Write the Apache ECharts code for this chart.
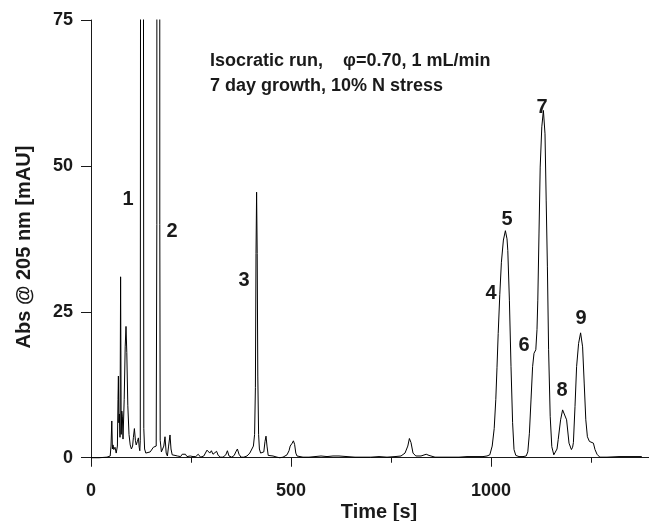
<!DOCTYPE html>
<html>
<head>
<meta charset="utf-8">
<script src="https://cdn.jsdelivr.net/npm/echarts@6/dist/echarts.min.js"></script>
<style>
  html, body { margin: 0; padding: 0; background: #fff; }
  #chart { width: 649px; height: 521px; }
</style>
</head>
<body>
<div id="chart"></div>
<script>
// chromatogram trace (time in s, absorbance in mAU)
const times = [
  0, 20, 40, 48, 50, 52, 53.5, 55, 57, 60, 63, 66, 67.5, 68.5, 69.5, 71, 72.5, 74, 75.5, 77,
  78.5, 80, 83, 85.5, 87.5, 89.5, 92, 95, 98, 101, 104, 106, 108.5, 111, 113, 116, 118.5, 120.5, 122, 123.2,
  123.8, 124.6, 127.5, 130.4, 131.2, 132, 134, 137, 142, 148, 152, 156, 160, 163, 164.6, 165.6, 168.5, 171, 172, 173,
  176, 180, 182, 185, 188, 191, 194, 197.5, 200, 203, 210, 216, 220, 224, 228, 232, 236, 240, 248, 255,
  262, 268, 274, 282, 290, 293, 297, 301, 305, 310, 314, 318, 324, 330, 337, 341, 345, 352, 358, 362,
  366, 370, 375, 382, 390, 397, 402, 406, 409, 411, 412.5, 414, 415.5, 417, 419, 421, 424, 428, 432, 435,
  437.5, 440, 443, 448, 455, 460, 465, 472, 480, 490, 495, 498, 500, 503, 506, 509, 512, 515, 520, 530,
  545, 560, 575, 590, 605, 620, 640, 660, 680, 700, 720, 740, 760, 775, 785, 792, 796, 800, 805, 812,
  825, 838, 845, 860, 880, 900, 920, 940, 960, 980, 990, 997, 1003, 1008, 1012, 1015, 1018, 1022, 1026, 1031,
  1036, 1040, 1042, 1046, 1050, 1054, 1057.5, 1062, 1070, 1080, 1088, 1092, 1096, 1100, 1104, 1107.5, 1112, 1115, 1117, 1120,
  1123, 1127, 1131, 1135, 1138, 1141, 1144, 1148, 1152, 1157, 1161, 1165, 1168, 1174, 1179, 1183, 1189, 1195, 1201, 1204,
  1206, 1210, 1214, 1219, 1224, 1229, 1233, 1237, 1241, 1246, 1251, 1256, 1260, 1265, 1272, 1290, 1320, 1350, 1377
];
const absorbance = [
  0, 0, 0.1, 0.3, 2, 6.3, 1.5, 2.2, 1.4, 1.8, 0.8, 2, 10, 14, 6, 7.5, 3.5, 31, 4, 8,
  7, 3.2, 10, 19, 22.5, 18, 9, 4, 2.2, 1.5, 2, 3.5, 5, 3, 2.2, 2.8, 3.4, 1.8, 1.2, 3,
  80, 600, 1500, 600, 80, 5, 1.5, 0.8, 0.8, 1, 0.9, 1.8, 1.5, 2, 40, 500, 1500, 500, 40, 3,
  1, 0.8, 2, 3.6, 0.8, 0.3, 2, 3.9, 1.5, 0.5, 0.4, 0.3, 0.5, 0.2, 0.6, 0.3, 0.6, 0.2, 0.3, 0.2,
  0.2, 0.6, 0.1, 0.3, 1.3, 1.6, 0.8, 1.2, 0.6, 0.6, 1.1, 0.4, 0.1, 0.1, 0.5, 1.2, 0.3, 0.1, 0.4, 1,
  1.5, 0.6, 0.1, 0.1, 0.3, 0.8, 1, 2, 4, 12, 35, 45.5, 35, 14, 4, 1.5, 0.8, 0.7, 1, 2.8,
  3.7, 2, 0.4, 0.1, 0.3, 0.4, 0.1, 0, 0.1, 0.5, 1.2, 2, 2.2, 2.5, 2.9, 2.3, 0.8, 0.3, 0.2, 0.1,
  0.1, 0.2, 0.3, 0.2, 0.3, 0.3, 0.2, 0.1, 0.1, 0.1, 0.2, 0.1, 0.2, 0.3, 0.8, 2, 3.3, 2.6, 0.8, 0.3,
  0.3, 0.6, 0.4, 0.1, 0.1, 0.1, 0.1, 0.2, 0.2, 0.2, 0.3, 0.5, 2, 5, 10, 15.5, 21.3, 28, 33.5, 37.3,
  38.9, 37.5, 35.5, 27, 15.6, 6, 1.4, 0.4, 0.2, 0.2, 0.3, 1, 4.2, 9.9, 15.6, 17.9, 18.5, 22, 27, 38.5,
  49.8, 56.7, 59.5, 55.5, 44, 32.7, 18.5, 7.1, 1.9, 0.5, 0.4, 1.5, 3.1, 6.5, 8.2, 8.5, 6.5, 2.5, 1.4, 1.8,
  2.6, 8.8, 15.6, 19.6, 21.4, 19, 12.8, 6.5, 3.6, 2.8, 2.9, 2.5, 1.4, 0.6, 0.1, 0.1, 0.2, 0.2, 0.2
];

// peak numbers and where they are written
const peakNames = ['1', '2', '3', '4', '5', '6', '7', '8', '9'];
const peakLabelX = [92.5, 202.5, 382.5, 1000, 1040, 1082.5, 1127.5, 1177.5, 1225];
const peakLabelY = [44.3, 38.8, 30.3, 28.2, 40.9, 19.2, 60.0, 11.5, 23.8];

const yTicks = [0, 25, 50, 75];
const yMinorTicks = [12.5, 37.5, 62.5];

const font = 'Liberation Sans, Arial, Helvetica, sans-serif';
const ink = '#1a1a1a';

const chart = echarts.init(document.getElementById('chart'));

const trace = times.map(function (t, i) { return [t, absorbance[i]]; });
const peaks = peakNames.map(function (n, i) { return { name: n, value: [peakLabelX[i], peakLabelY[i]] }; });

chart.setOption({
  animation: false,
  backgroundColor: '#fff',
  grid: { left: 91, top: 20, width: 600, height: 443, outerBoundsMode: 'none', containLabel: false },
  xAxis: {
    type: 'value',
    min: 0, max: 1500, interval: 500,
    axisLine: { lineStyle: { color: ink, width: 1 } },
    axisTick: { length: 9, lineStyle: { color: ink } },
    minorTick: { show: true, splitNumber: 2, length: 5, lineStyle: { color: ink } },
    axisLabel: {
      margin: 19, fontSize: 18, fontWeight: 'bold', color: ink, fontFamily: font, showMaxLabel: false,
      formatter: function (v) { return String(v); }
    },
    splitLine: { show: false }
  },
  yAxis: [{
    type: 'value',
    min: -0.9, max: 75,
    axisLine: { show: true, lineStyle: { color: ink, width: 1 } },
    axisTick: { show: true, length: 10, customValues: yTicks, lineStyle: { color: ink } },
    axisLabel: { margin: 18, fontSize: 18, fontWeight: 'bold', color: ink, fontFamily: font, customValues: yTicks },
    splitLine: { show: false }
  }, {
    type: 'value',
    min: -0.9, max: 75,
    axisLine: { show: false },
    axisTick: { show: true, length: 5, customValues: yMinorTicks, lineStyle: { color: ink } },
    axisLabel: { show: false },
    splitLine: { show: false }
  }],
  series: [{
    type: 'line',
    data: trace,
    showSymbol: false,
    clip: true,
    lineStyle: { color: '#000', width: 1 }
  }, {
    type: 'scatter',
    data: peaks,
    symbolSize: 1,
    itemStyle: { color: 'transparent', opacity: 1 },
    label: {
      show: true, position: 'inside', formatter: '{b}',
      fontSize: 20, fontWeight: 'bold', color: ink, fontFamily: font
    }
  }],
  graphic: [{
    type: 'text', left: 210, top: 49,
    style: {
      text: 'Isocratic run,    φ=0.70, 1 mL/min\n7 day growth, 10% N stress',
      font: 'bold 18px ' + font, fill: ink, lineHeight: 25
    }
  }, {
    type: 'text', x: 379, y: 512,
    style: { text: 'Time [s]', font: 'bold 20px ' + font, fill: ink, align: 'center', verticalAlign: 'middle' }
  }, {
    type: 'text', x: 24, y: 247, rotation: Math.PI / 2,
    style: { text: 'Abs @ 205 nm [mAU]', font: 'bold 20px ' + font, fill: ink, align: 'center', verticalAlign: 'middle' }
  }]
});
</script>
</body>
</html>
